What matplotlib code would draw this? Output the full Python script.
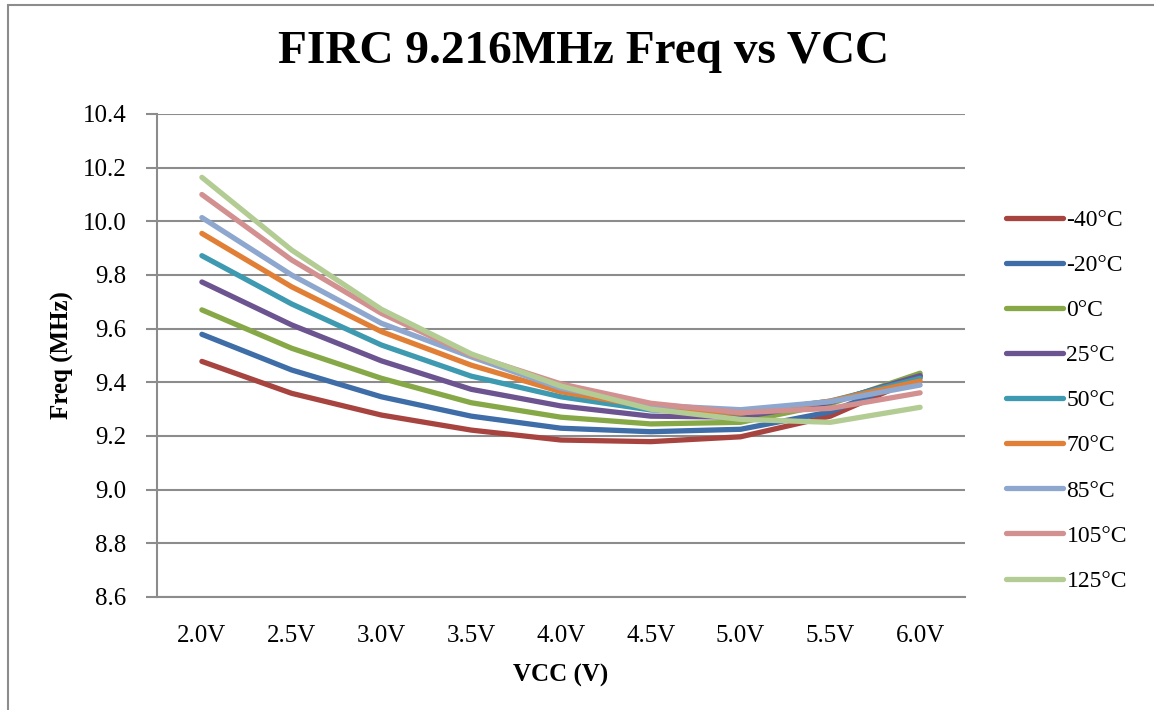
import matplotlib.pyplot as plt
from matplotlib.patches import Rectangle

# Data
vcc_labels = ["2.0V", "2.5V", "3.0V", "3.5V", "4.0V", "4.5V", "5.0V", "5.5V", "6.0V"]
temps = ["-40°C", "-20°C", "0°C", "25°C", "50°C", "70°C", "85°C", "105°C", "125°C"]

f_m40 = [9.478, 9.359, 9.278, 9.222, 9.185, 9.179, 9.197, 9.274, 9.420]
f_m20 = [9.579, 9.446, 9.346, 9.274, 9.229, 9.216, 9.225, 9.290, 9.425]
f_0 = [9.670, 9.527, 9.415, 9.324, 9.270, 9.245, 9.251, 9.320, 9.434]
f_25 = [9.774, 9.614, 9.480, 9.374, 9.312, 9.274, 9.270, 9.325, 9.425]
f_50 = [9.872, 9.692, 9.539, 9.423, 9.346, 9.297, 9.285, 9.330, 9.415]
f_70 = [9.955, 9.756, 9.589, 9.464, 9.365, 9.308, 9.285, 9.330, 9.405]
f_85 = [10.014, 9.800, 9.620, 9.495, 9.378, 9.315, 9.298, 9.328, 9.390]
f_105 = [10.100, 9.856, 9.657, 9.502, 9.394, 9.322, 9.287, 9.303, 9.361]
f_125 = [10.164, 9.893, 9.672, 9.506, 9.386, 9.300, 9.262, 9.251, 9.307]

series = [f_m40, f_m20, f_0, f_25, f_50, f_70, f_85, f_105, f_125]
colors = ["#A84440", "#3E6DA8", "#86A847", "#6C5490", "#3D9AB0",
          "#E07F35", "#8EA7CE", "#D39090", "#B3CC94"]

plt.rcParams['font.family'] = ['Liberation Serif', 'DejaVu Serif']

fig = plt.figure(figsize=(11.54, 7.1), dpi=100)
ax = fig.add_axes([157 / 1154, 1 - 597 / 710, 808 / 1154, 483 / 710])

# outer chart frame (right/bottom edges are cut off in the reference)
fig.patches.append(Rectangle((8 / 1154, -0.1), 1.2, 1 - 5 / 710 + 0.1,
                             transform=fig.transFigure, fill=False,
                             edgecolor="#8c8c8c", linewidth=1.5))

x = list(range(len(vcc_labels)))
for vals, name, c in zip(series, temps, colors):
    ax.plot(x, vals, color=c, linewidth=3.8, label=name, solid_capstyle='round')

ax.set_xlim(-0.5, len(vcc_labels) - 0.5)
ax.set_ylim(8.6, 10.4)
ax.set_yticks([8.6 + 0.2 * i for i in range(10)])
ax.set_yticklabels([f"{8.6 + 0.2 * i:.1f}" for i in range(10)])
ax.set_xticks(x)
ax.set_xticklabels(vcc_labels)
ax.tick_params(axis='y', labelsize=18, length=8, width=1.5, color="#8c8c8c", pad=14)
ax.tick_params(axis='x', labelsize=18, length=0, pad=20)

ax.grid(axis='y', color="#8c8c8c", linewidth=1.5)
ax.set_axisbelow(True)
for s in ["top", "right"]:
    ax.spines[s].set_visible(False)
for s in ["left", "bottom"]:
    ax.spines[s].set_color("#8c8c8c")
    ax.spines[s].set_linewidth(1.5)

ax.set_xlabel("VCC (V)", fontsize=18, fontweight='bold', labelpad=12)
ax.set_ylabel("Freq (MHz)", fontsize=18, fontweight='bold', labelpad=6)
fig.text(583 / 1154, 1 - 52 / 710, "FIRC 9.216MHz Freq vs VCC", fontsize=34,
         fontweight='bold', ha='center', va='center')

ax.legend(loc='upper left', bbox_to_anchor=(985 / 1154, 1 - 188 / 710),
          bbox_transform=fig.transFigure, frameon=False, fontsize=17,
          handlelength=2.4, handletextpad=0.15, labelspacing=1.0)

fig.savefig("out.png", dpi=100)
